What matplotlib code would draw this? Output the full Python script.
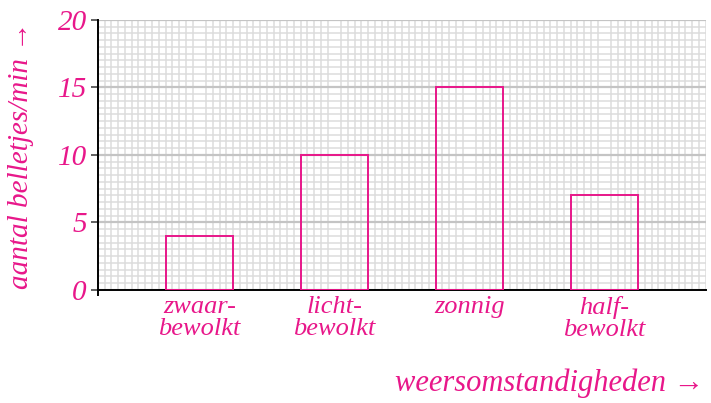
import numpy as np
import matplotlib
matplotlib.use('Agg')
import matplotlib.pyplot as plt
from matplotlib.ticker import MultipleLocator

# data
categories = ['zwaar-\nbewolkt', 'licht-\nbewolkt', 'zonnig', 'half-\nbewolkt']
values = [4, 10, 15, 7]

PINK = '#E8178A'
FONT = dict(family='Liberation Serif', style='italic', color=PINK)

fig = plt.figure(figsize=(7.11, 4.03), dpi=100)
ax = fig.add_axes([0.1378, 0.2804, 0.8548, 0.670])

x = np.arange(len(categories))
ax.bar(x, values, width=0.5, facecolor='none', edgecolor=PINK, lw=1.4, zorder=3)

ax.set_xlim(-0.75, 3.75)
ax.set_ylim(0, 20)

# graph paper grid
ax.xaxis.set_minor_locator(MultipleLocator(0.05))
ax.yaxis.set_minor_locator(MultipleLocator(0.5))
ax.yaxis.set_major_locator(MultipleLocator(5))
ax.grid(which='minor', color='#DCDCDC', lw=1.1, zorder=0)
ax.grid(which='major', axis='y', color='#C4C4C4', lw=1.6, zorder=0)
ax.set_axisbelow(True)

ax.set_xticks(x)
ax.set_xticklabels(categories, fontsize=19, linespacing=1.05, **FONT)
ax.tick_params(axis='x', which='both', length=0, pad=4)
ax.tick_params(axis='y', which='minor', length=0)
ax.tick_params(axis='y', which='major', length=5, width=1.3, color='#555555', pad=3)
for lab in ax.get_yticklabels():
    lab.set_fontsize(21)
    lab.set_family('Liberation Serif')
    lab.set_style('italic')
    lab.set_color(PINK)

for s in ['top', 'right']:
    ax.spines[s].set_visible(False)
ax.spines['left'].set_linewidth(1.4)
ax.spines['bottom'].set_linewidth(1.4)
ax.spines['left'].set_bounds(-0.4, 20)

fig.text(0.03, 0.615, 'aantal belletjes/min →', rotation=90, ha='center',
         va='center', fontsize=21, **FONT)
fig.text(0.99, 0.05, 'weersomstandigheden →', ha='right', va='center',
         fontsize=22, **FONT)

fig.savefig('out.png', dpi=100)
